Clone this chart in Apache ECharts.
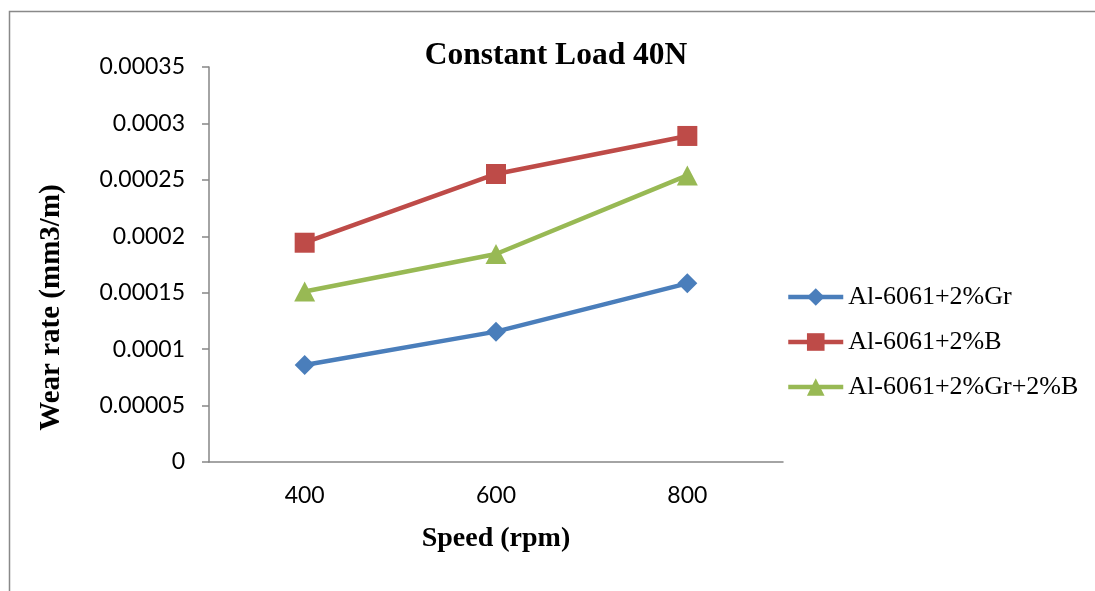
<!DOCTYPE html>
<html>
<head>
<meta charset="utf-8">
<script src="https://cdn.jsdelivr.net/npm/echarts@6/dist/echarts.min.js"></script>
<style>
  html, body { margin: 0; padding: 0; background: #ffffff; }
  #chart { width: 1095px; height: 591px; }
</style>
</head>
<body>
<div id="chart"></div>
<script>
// Wear rate vs sliding speed at constant 40 N load
const speeds = ['400', '600', '800'];
const seriesNames = ['Al-6061+2%Gr', 'Al-6061+2%B', 'Al-6061+2%Gr+2%B'];
const wearGr = [0.0000860, 0.0001155, 0.0001583];
const wearB = [0.0001943, 0.0002552, 0.0002889];
const wearGrB = [0.0001511, 0.0001843, 0.0002539];
const yTickLabels = ['0', '0.00005', '0.0001', '0.00015', '0.0002', '0.00025', '0.0003', '0.00035'];

const colors = ['#4a7ebb', '#be4b48', '#98b954'];
const symbols = ['diamond', 'rect', 'triangle'];
const symbolSizes = [20, 20, [21, 20]];
const seriesValues = [wearGr, wearB, wearGrB];

const chart = echarts.init(document.getElementById('chart'), null, { renderer: 'canvas' });

const axisGray = '#868686';

chart.setOption({
  backgroundColor: '#ffffff',
  animation: false,
  title: {
    text: 'Constant Load 40N',
    left: 551,
    top: 35,
    textAlign: 'center',
    textStyle: {
      fontFamily: 'Liberation Serif',
      fontWeight: 'bold',
      fontSize: 31.5,
      lineHeight: 32,
      color: '#000000'
    }
  },
  legend: {
    orient: 'vertical',
    left: 781,
    top: 279,
    itemWidth: 55,
    itemHeight: 22,
    itemGap: 19,
    lineStyle: { width: 4.5 },
    textStyle: {
      fontFamily: 'Liberation Serif',
      fontSize: 26,
      lineHeight: 26,
      color: '#000000'
    },
    data: seriesNames
  },
  grid: {
    left: 209,
    right: 312,
    top: 67,
    bottom: 129,
    containLabel: false
  },
  xAxis: {
    type: 'category',
    data: speeds,
    boundaryGap: true,
    axisLine: { lineStyle: { color: axisGray, width: 1.5 } },
    axisTick: { show: false },
    axisLabel: {
      margin: 22,
      fontFamily: 'Lato',
      fontSize: 23,
      color: '#000000'
    },
    splitLine: { show: false }
  },
  yAxis: {
    type: 'value',
    min: 0,
    max: 0.00035,
    interval: 0.00005,
    axisLine: { show: true, lineStyle: { color: axisGray, width: 1.5 } },
    axisTick: { show: true, length: 7, inside: false, lineStyle: { color: axisGray, width: 1.5 } },
    axisLabel: {
      margin: 24,
      fontFamily: 'Lato',
      fontSize: 23,
      color: '#000000',
      formatter: function (v) {
        const i = Math.round(v / 0.00005);
        return yTickLabels[i];
      }
    },
    splitLine: { show: false }
  },
  graphic: [
    {
      type: 'rect',
      silent: true,
      shape: { x: 9.5, y: 11.5, width: 1200, height: 700 },
      style: { fill: 'none', stroke: '#898989', lineWidth: 1.5 },
      z: -1
    },
    {
      type: 'text',
      x: 496,
      y: 539,
      style: {
        text: 'Speed (rpm)',
        fontFamily: 'Liberation Serif',
        fontWeight: 'bold',
        fontSize: 28,
        fill: '#000000',
        align: 'center',
        verticalAlign: 'middle'
      }
    },
    {
      type: 'text',
      x: 52,
      y: 307.5,
      rotation: Math.PI / 2,
      style: {
        text: 'Wear rate (mm3/m)',
        fontFamily: 'Liberation Serif',
        fontWeight: 'bold',
        fontSize: 29,
        fill: '#000000',
        align: 'center',
        verticalAlign: 'middle'
      }
    }
  ],
  series: seriesNames.map(function (name, i) {
    return {
      name: name,
      type: 'line',
      data: seriesValues[i],
      symbol: symbols[i],
      symbolSize: symbolSizes[i],
      showAllSymbol: true,
      color: colors[i],
      lineStyle: { color: colors[i], width: 4.5 },
      itemStyle: { color: colors[i] },
      emphasis: { disabled: true }
    };
  })
});
</script>
</body>
</html>
